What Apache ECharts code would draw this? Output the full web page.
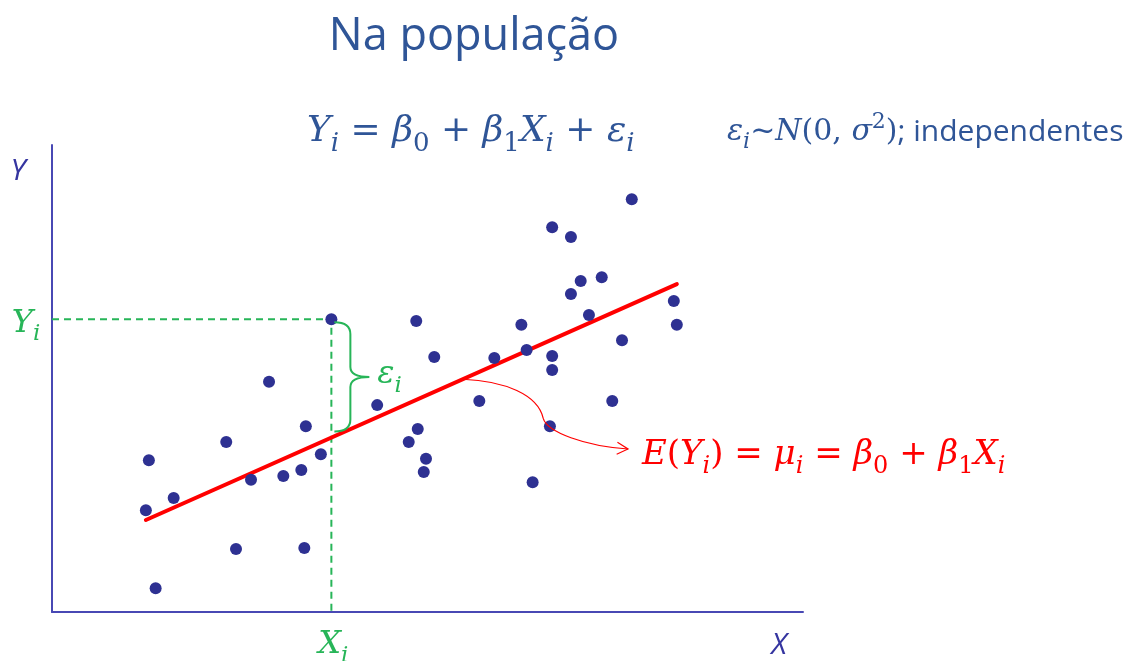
<!DOCTYPE html>
<html>
<head>
<meta charset="utf-8">
<script src="https://cdn.jsdelivr.net/npm/echarts@6/dist/echarts.min.js"></script>
<style>
  html, body { margin: 0; padding: 0; background: #ffffff; }
  #chart { width: 1133px; height: 661px; }
</style>
</head>
<body>
<div id="chart"></div>
<script>
// Observations (X, Y) of the population sample
const xValues = [12.9, 12.5, 16.2, 13.8, 23.2, 24.5, 26.5, 28.9, 30.8, 33.2,
                 33.8, 33.6, 35.8, 37.2, 43.3, 47.5, 48.7, 48.5, 49.8, 49.5,
                 50.9, 56.9, 58.9, 62.5, 63.2, 64.0, 66.6, 69.1, 66.6, 66.6,
                 66.3, 69.1, 70.4, 71.5, 73.2, 74.6, 75.9, 77.2, 82.8, 83.2];
const yValues = [32.5, 21.8, 24.4, 5.1, 36.4, 13.5, 28.3, 49.3, 29.1, 30.4,
                 39.8, 13.7, 33.8, 62.7, 44.3, 36.4, 39.2, 62.3, 32.8, 30.0,
                 54.6, 45.2, 54.4, 61.5, 56.1, 27.8, 82.4, 80.3, 54.8, 51.8,
                 39.8, 68.1, 70.9, 63.6, 71.7, 45.2, 58.2, 88.4, 66.6, 61.5];
// Population regression line E(Y) = b0 + b1 X, given by its two end points
const fitX = [12.5, 83.2];
const fitY = [19.7, 70.2];
// The highlighted observation (X_i, Y_i)
const highlightIndex = 13;
const axisRange = [0, 100];

const BLUE = '#2f5597';
const AXIS = '#4848b4';
const AXIS_TEXT = '#3535a0';
const DOT = '#2e3192';
const GREEN = '#27b558';
const RED = '#ff0000';
const MATH = 'DejaVu Serif';
const SANS = 'Open Sans';

function fitAt(x) {
  const slope = (fitY[1] - fitY[0]) / (fitX[1] - fitX[0]);
  return fitY[0] + slope * (x - fitX[0]);
}

// Rich-text styles for math: italic letters, upright digits/operators, sub/superscripts
function mathRich(color, size, sansSize) {
  const lh = Math.round(size * 1.4);
  const sl = Math.round(size * 0.72);
  return {
    m:  { fontFamily: MATH, fontStyle: 'italic', fontSize: size, fill: color, lineHeight: lh, verticalAlign: 'middle' },
    r:  { fontFamily: MATH, fontSize: size, fill: color, lineHeight: lh, verticalAlign: 'middle' },
    s:  { fontFamily: MATH, fontStyle: 'italic', fontSize: sl, fill: color, lineHeight: sl, verticalAlign: 'bottom' },
    sr: { fontFamily: MATH, fontSize: sl, fill: color, lineHeight: sl, verticalAlign: 'bottom' },
    sup:{ fontFamily: MATH, fontSize: sl, fill: color, lineHeight: sl, verticalAlign: 'top' },
    t:  { fontFamily: SANS, fontSize: sansSize || size, fill: color, lineHeight: lh, verticalAlign: 'middle' }
  };
}

const points = xValues.map((x, i) => [x, yValues[i]]);
const hx = xValues[highlightIndex];
const hy = yValues[highlightIndex];

const chart = echarts.init(document.getElementById('chart'), null, { renderer: 'canvas' });

const option = {
  backgroundColor: '#ffffff',
  animation: false,
  grid: { left: 52, top: 145, width: 751, height: 467, containLabel: false },
  xAxis: {
    type: 'value', min: axisRange[0], max: axisRange[1],
    axisLine: { show: true, onZero: false, lineStyle: { color: AXIS, width: 2 } },
    axisTick: { show: false }, axisLabel: { show: false }, splitLine: { show: false }
  },
  yAxis: {
    type: 'value', min: axisRange[0], max: axisRange[1],
    axisLine: { show: true, onZero: false, lineStyle: { color: AXIS, width: 2 } },
    axisTick: { show: false }, axisLabel: { show: false }, splitLine: { show: false }
  },
  graphic: [
    { type: 'text', x: 474, y: 37, z: 10,
      style: { text: 'Na população', fontFamily: SANS, fontSize: 45, fill: BLUE,
               align: 'center', verticalAlign: 'middle' } },
    { type: 'text', x: 307, y: 132, z: 10,
      style: {
        text: '{m|Y}{s|i}{r| = }{m|β}{sr|0}{r| + }{m|β}{sr|1}{m|X}{s|i}{r| + }{m|ε}{s|i}',
        rich: mathRich(BLUE, 36), verticalAlign: 'middle', align: 'left'
      } },
    { type: 'text', x: 727, y: 132, z: 10,
      style: {
        text: '{m|ε}{s|i}{r|~}{m|N}{r|(0, }{m|σ}{sup|2}{r|)}{t|; independentes}',
        rich: mathRich(BLUE, 30, 30), verticalAlign: 'middle', align: 'left'
      } },
    { type: 'text', x: 18, y: 171, z: 10,
      style: { text: 'Y', fontFamily: SANS, fontStyle: 'italic', fontSize: 30, fill: AXIS_TEXT,
               align: 'center', verticalAlign: 'middle' } },
    { type: 'text', x: 779, y: 645, z: 10,
      style: { text: 'X', fontFamily: SANS, fontStyle: 'italic', fontSize: 30, fill: AXIS_TEXT,
               align: 'center', verticalAlign: 'middle' } }
  ],
  series: [
    {
      // guides from the highlighted observation to both axes
      name: 'guides', type: 'line', z: 1,
      data: [[axisRange[0], hy], [hx, hy], [hx, axisRange[0]]],
      symbol: 'none', silent: true,
      lineStyle: { color: GREEN, width: 2, type: [7, 5] }
    },
    {
      name: 'E(Y)', type: 'line', z: 2,
      data: fitX.map((x, i) => [x, fitY[i]]),
      symbol: 'none', silent: true,
      lineStyle: { color: RED, width: 4, cap: 'round' }
    },
    {
      name: 'observações', type: 'scatter', z: 3,
      data: points, symbol: 'circle', symbolSize: 12,
      itemStyle: { color: DOT, opacity: 1 }
    },
    {
      // brace for the error term, curved arrow to the mean and the X_i / Y_i labels
      name: 'anotações', type: 'custom', z: 4, clip: false, silent: true,
      data: [[hx, hy]],
      renderItem: function (params, api) {
        const p = api.coord([hx, hy]);
        const q = api.coord([hx, fitAt(hx)]);
        const o = api.coord([axisRange[0], axisRange[0]]);
        const x0 = p[0] + 3, bx = p[0] + 19, tipX = p[0] + 38;
        const top = p[1] + 3, bot = q[1] - 6, mid = (top + bot) / 2;
        const brace =
          'M' + x0 + ',' + top + ' Q' + bx + ',' + top + ' ' + bx + ',' + (top + 12) +
          ' L' + bx + ',' + (mid - 10) + ' Q' + bx + ',' + mid + ' ' + tipX + ',' + mid +
          ' M' + x0 + ',' + bot + ' Q' + bx + ',' + bot + ' ' + bx + ',' + (bot - 12) +
          ' L' + bx + ',' + (mid + 10) + ' Q' + bx + ',' + mid + ' ' + tipX + ',' + mid;

        // S-shaped arrow from the regression line to the mean formula
        const ax = 54.7;
        const a0 = api.coord([ax, fitAt(ax)]);
        const c1 = api.coord([60.3, 49.5]);
        const c2 = api.coord([64.7, 46.5]);
        const a1 = api.coord([65.4, 41.5]);
        const c3 = api.coord([65.9, 38.5]);
        const c4 = api.coord([71.0, 35.5]);
        const a2 = api.coord([76.7, 34.9]);
        const arrow = 'M' + a0[0] + ',' + a0[1] +
          ' C' + c1[0] + ',' + c1[1] + ' ' + c2[0] + ',' + c2[1] + ' ' + a1[0] + ',' + a1[1] +
          ' C' + c3[0] + ',' + c3[1] + ' ' + c4[0] + ',' + c4[1] + ' ' + a2[0] + ',' + a2[1];
        const dx = a2[0] - c4[0], dy = a2[1] - c4[1];
        const len = Math.sqrt(dx * dx + dy * dy);
        const ux = dx / len, uy = dy / len;
        const hl = 11, hw = 6;
        const head = 'M' + (a2[0] - ux * hl - uy * hw) + ',' + (a2[1] - uy * hl + ux * hw) +
          ' L' + a2[0] + ',' + a2[1] +
          ' L' + (a2[0] - ux * hl + uy * hw) + ',' + (a2[1] - uy * hl - ux * hw);

        return {
          type: 'group',
          children: [
            { type: 'path', shape: { pathData: brace },
              style: { stroke: GREEN, fill: null, lineWidth: 2 } },
            { type: 'text', x: tipX + 8, y: mid - 2,
              style: { text: '{m|ε}{s|i}', rich: mathRich(GREEN, 32), align: 'left', verticalAlign: 'middle' } },
            { type: 'path', shape: { pathData: arrow },
              style: { stroke: RED, fill: null, lineWidth: 1.2 } },
            { type: 'path', shape: { pathData: head },
              style: { stroke: RED, fill: null, lineWidth: 1.2 } },
            { type: 'text', x: a2[0] + 14, y: a2[1] + 6,
              style: {
                text: '{m|E}{r|(}{m|Y}{s|i}{r|) = }{m|μ}{s|i}{r| = }{m|β}{sr|0}{r| + }{m|β}{sr|1}{m|X}{s|i}',
                rich: mathRich(RED, 34), align: 'left', verticalAlign: 'middle' } },
            { type: 'text', x: o[0] - 26, y: p[1] + 4,
              style: { text: '{m|Y}{s|i}', rich: mathRich(GREEN, 32), align: 'center', verticalAlign: 'middle' } },
            { type: 'text', x: p[0] + 2, y: o[1] + 33,
              style: { text: '{m|X}{s|i}', rich: mathRich(GREEN, 32), align: 'center', verticalAlign: 'middle' } }
          ]
        };
      }
    }
  ]
};

chart.setOption(option);
</script>
</body>
</html>
